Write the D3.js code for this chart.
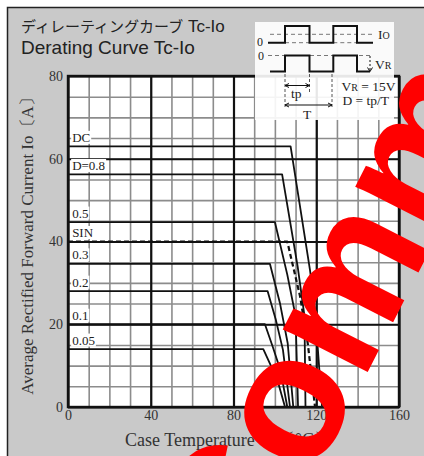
<!DOCTYPE html>
<html lang="ja">
<head>
<meta charset="utf-8">
<title>Derating Curve Tc-Io</title>
<script src="https://cdn.jsdelivr.net/npm/d3@7"></script>
<style>
  body { margin: 0; background: #fff; }
  svg { display: block; }
</style>
</head>
<body>
<script>
// tick values of the two axes
var x_ticks = [0, 40, 80, 120, 160];
var y_ticks = [0, 20, 40, 60, 80];
var x_minor = d3.range(0, 161, 10);
var y_minor = d3.range(0, 81, 5);

// curves: case temperature (C) and current (A)
var curve_names = ["DC", "D=0.8", "0.5", "SIN", "0.3", "0.2", "0.1", "0.05"];
var curve_tc = [
  [0, 107.6, 117, 119.4, 122.8],
  [0, 103.5, 111, 114.3, 114.8],
  [0, 100, 106, 110, 111.2],
  [0, 106, 112.2, 116, 119.4],
  [0, 97.6, 102.5, 106.2, 108.9],
  [0, 96.5, 100.5, 103.9, 107.3],
  [0, 95.2, 99, 102.7, 106],
  [0, 94.4, 98.5, 101.9, 104.9]
];
var curve_io = [
  [63, 63, 33, 23.4, 0],
  [56.2, 56.2, 34, 22, 0],
  [44.7, 44.7, 32, 22, 0],
  [40, 40, 26.7, 15, 0],
  [34.6, 34.6, 25, 15.4, 0],
  [28, 28, 21, 13.8, 0],
  [20, 20, 14.5, 8.9, 0],
  [14, 14, 9.5, 5.3, 0]
];

var w = 424;
var h = 456;
var serif = "'Liberation Serif', 'DejaVu Serif', serif";
var sans = "'Liberation Sans', Arial, sans-serif";

var svg = d3.select("body")
            .append("svg")
            .attr("width", w)
            .attr("height", h);

// grey panel with its frame
svg.append("rect")
   .attr("x", 7.5).attr("y", 7.5)
   .attr("width", w).attr("height", h)
   .attr("fill", "#c9c9c9")
   .attr("stroke", "#222")
   .attr("stroke-width", 1.5);

var xscale = d3.scaleLinear().domain([0, 160]).range([68, 399]);
var yscale = d3.scaleLinear().domain([0, 80]).range([407, 76]);
var plot_w = xscale(160) - xscale(0);
var plot_h = yscale(0) - yscale(80);

make_grid();
make_curves();
make_labels();
make_inset();
make_axis();
make_titles();
make_watermark();

function make_grid(){
  svg.append("rect")
     .attr("x", xscale(0)).attr("y", yscale(80))
     .attr("width", plot_w).attr("height", plot_h)
     .attr("fill", "white");

  var gx = svg.append("g")
     .attr("transform", "translate(0," + yscale(0) + ")")
     .call(d3.axisBottom(xscale).tickValues(x_minor).tickSize(-plot_h).tickFormat(""));
  var gy = svg.append("g")
     .attr("transform", "translate(" + xscale(0) + ",0)")
     .call(d3.axisLeft(yscale).tickValues(y_minor).tickSize(-plot_w).tickFormat(""));
  [gx, gy].forEach(function(g){
    g.select(".domain").remove();
    g.selectAll("line").attr("stroke", "#8c8c8c").attr("stroke-width", 1.6);
  });

  var mx = svg.append("g")
     .attr("transform", "translate(0," + yscale(0) + ")")
     .call(d3.axisBottom(xscale).tickValues(x_ticks).tickSize(-plot_h).tickFormat(""));
  var my = svg.append("g")
     .attr("transform", "translate(" + xscale(0) + ",0)")
     .call(d3.axisLeft(yscale).tickValues(y_ticks).tickSize(-plot_w).tickFormat(""));
  [mx, my].forEach(function(g){
    g.select(".domain").remove();
    g.selectAll("line").attr("stroke", "#111").attr("stroke-width", 2.2);
  });
}

function make_curves(){
  var line = d3.line()
     .x(function(d){ return xscale(d[0]); })
     .y(function(d){ return yscale(d[1]); });

  svg.append("g")
     .selectAll("path")
     .data(curve_names)
     .enter()
     .append("path")
     .attr("d", function(d, i){ return line(d3.zip(curve_tc[i], curve_io[i])); })
     .attr("fill", "none")
     .attr("stroke", "#111")
     .attr("stroke-linejoin", "round")
     .attr("stroke-width", function(d){ return d == "SIN" ? 2.2 : 1.8; })
     .attr("stroke-dasharray", function(d){ return d == "SIN" ? "5,3" : null; });
}

function make_labels(){
  var g = svg.append("g");
  curve_names.forEach(function(name, i){
    var t = g.append("text")
       .attr("x", xscale(2))
       .attr("y", yscale(curve_io[i][0]) - 4.5)
       .attr("font-family", serif)
       .attr("font-size", 13)
       .attr("fill", "#222")
       .text(name);
    var b = t.node().getBBox();
    g.insert("rect", "text")
       .attr("x", b.x - 1).attr("y", b.y + 1)
       .attr("width", b.width + 2).attr("height", b.height - 2)
       .attr("fill", "white");
  });

  svg.append("rect")
     .attr("x", xscale(0)).attr("y", yscale(80))
     .attr("width", plot_w).attr("height", plot_h)
     .attr("fill", "none")
     .attr("stroke", "#111")
     .attr("stroke-width", 2.4);
}

function make_inset(){
  var g = svg.append("g").attr("transform", "translate(255,22)");
  g.append("rect")
   .attr("width", 139).attr("height", 98)
   .attr("fill", "white").attr("opacity", 0.9);

  var dash = "4,3";
  // current waveform
  g.append("path").attr("d", "M15,12.3H120")
   .attr("stroke", "#777").attr("stroke-dasharray", dash).attr("fill", "none");
  g.append("path").attr("d", "M30,20.7H54.5M78.3,20.7H102")
   .attr("stroke", "#777").attr("stroke-dasharray", dash).attr("fill", "none");
  g.append("path").attr("d", "M13,20.7H30V4H54.5V20.7H78.3V4H102V20.7H118")
   .attr("stroke", "#111").attr("stroke-width", 2).attr("fill", "none");
  // voltage waveform
  g.append("path").attr("d", "M13,33.5H118")
   .attr("stroke", "#777").attr("stroke-dasharray", dash).attr("fill", "none");
  g.append("path").attr("d", "M15,49.5H30V33.5H54.5V49.5H78.3V33.5H102V49.5H115")
   .attr("stroke", "#111").attr("stroke-width", 2).attr("fill", "none");
  g.append("path").attr("d", "M115,34V49")
   .attr("stroke", "#111").attr("stroke-dasharray", "2,2").attr("fill", "none");
  g.append("path").attr("d", "M112.5,45.5L115,49.5L117.5,45.5")
   .attr("stroke", "#111").attr("fill", "none");

  // tp and T dimensions
  g.append("path").attr("d", "M30,52V86M54.5,52V70M77,52V86")
   .attr("stroke", "#555").attr("stroke-dasharray", "3,2").attr("fill", "none");
  g.append("path").attr("d", "M30,63.5H54.5M30,83H77")
   .attr("stroke", "#111").attr("stroke-width", 1.2).attr("fill", "none");
  g.append("path").attr("d", "M34,61.5L30,63.5L34,65.5M50.5,61.5L54.5,63.5L50.5,65.5M34,81L30,83L34,85M73,81L77,83L73,85")
   .attr("stroke", "#111").attr("fill", "none");

  var txt = g.append("g")
     .attr("font-family", serif)
     .attr("font-size", 13.5)
     .attr("fill", "#222");
  txt.append("text").attr("x", 2).attr("y", 24).attr("font-size", 12).text("0");
  txt.append("text").attr("x", 3).attr("y", 38).attr("font-size", 12).text("0");
  var io = txt.append("text").attr("x", 123).attr("y", 16.5).text("I");
  io.append("tspan").attr("font-size", 10).text("O");
  var vr = txt.append("text").attr("x", 120).attr("y", 46.5).text("V");
  vr.append("tspan").attr("font-size", 10).text("R");
  txt.append("text").attr("x", 36).attr("y", 76).text("tp");
  txt.append("text").attr("x", 48).attr("y", 97).text("T");
  var v15 = txt.append("text").attr("x", 86.5).attr("y", 68.5).text("V");
  v15.append("tspan").attr("font-size", 10).text("R");
  v15.append("tspan").text(" = 15V");
  txt.append("text").attr("x", 87.5).attr("y", 82.5).text("D = tp/T");
}

function make_axis(){
  var ax = svg.append("g")
     .attr("transform", "translate(0," + yscale(0) + ")")
     .call(d3.axisBottom(xscale).tickValues(x_ticks).tickSize(0).tickPadding(3));
  var ay = svg.append("g")
     .attr("transform", "translate(" + xscale(0) + ",0)")
     .call(d3.axisLeft(yscale).tickValues(y_ticks).tickSize(0).tickPadding(5));
  [ax, ay].forEach(function(g){
    g.select(".domain").remove();
    g.selectAll("text")
     .attr("font-family", serif)
     .attr("font-size", 14)
     .attr("fill", "#333");
  });

  svg.append("text")
     .attr("transform", "translate(33," + (yscale(40) + 0.5) + ") rotate(-90)")
     .attr("text-anchor", "middle")
     .attr("font-family", serif)
     .attr("font-size", 17)
     .attr("fill", "#333")
     .text("Average Rectified Forward Current  Io〔A〕");

  svg.append("text")
     .attr("x", 125)
     .attr("y", 446)
     .attr("font-family", serif)
     .attr("font-size", 18)
     .attr("fill", "#333")
     .text("Case Temperature Tc〔°C〕");
}

function make_titles(){
  var t1 = svg.append("text")
     .attr("x", 21).attr("y", 32)
     .attr("fill", "#222");
  t1.append("tspan")
    .attr("font-family", "'Noto Sans CJK JP', sans-serif")
    .attr("font-size", 15)
    .text("ディレーティングカーブ");
  t1.append("tspan")
    .attr("font-family", sans)
    .attr("font-size", 17)
    .text(" Tc-Io");

  svg.append("text")
     .attr("x", 21).attr("y", 54)
     .attr("font-family", sans)
     .attr("font-size", 19)
     .attr("fill", "#222")
     .text("Derating Curve Tc-Io");
}

function make_watermark(){
  svg.append("text")
     .attr("transform", "translate(253,597) rotate(-63)")
     .attr("font-family", sans)
     .attr("font-weight", "bold")
     .attr("font-size", 180)
     .attr("fill", "#ff0000")
     .text("Comm");
}
</script>
</body>
</html>
